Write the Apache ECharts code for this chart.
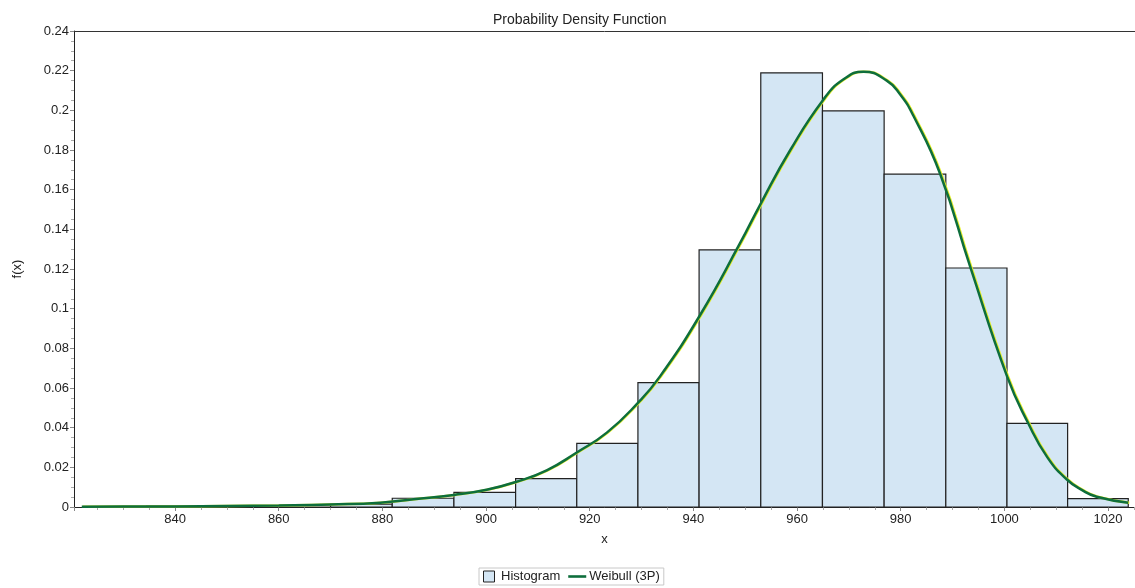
<!DOCTYPE html>
<html>
<head>
<meta charset="utf-8">
<title>Probability Density Function</title>
<script src="https://cdn.jsdelivr.net/npm/echarts/dist/echarts.min.js"></script>
<style>
	html, body { margin: 0; padding: 0; background: #fff; }
	#container { width: 1135px; height: 588px; }
</style>
</head>
<body>
<div id="container"></div>
<script>
// histogram bins (edges) and density of each bin
var binEdges = [822.6, 834.5, 846.3, 858.2, 870.0, 881.9, 893.8, 905.7, 917.5, 929.3,
	941.1, 953.0, 964.9, 976.8, 988.7, 1000.5, 1012.2, 1023.9];
var binDensity = [0, 0.0005, 0.0005, 0, 0.0015, 0.0044, 0.0074, 0.0143, 0.0321, 0.0627,
	0.1296, 0.2189, 0.1997, 0.1678, 0.1205, 0.0422, 0.0042];

// fitted Weibull (3P) curve
var curveX = [822, 830, 840, 850, 860, 870, 879.6, 886.0, 893.8, 900.1, 905.7, 911.7, 917.5,
	923.3, 929.3, 933.6, 941.3, 949.0, 952.9, 958.7, 965.1, 968.9, 972.8, 977.3, 979.9,
	982.4, 987.6, 993.4, 1000.5, 1004.6, 1008.3, 1012.0, 1015.0, 1017.8, 1023.9];
var curveY = [0.0001, 0.0002, 0.0003, 0.0005, 0.0008, 0.0013, 0.0022, 0.0039, 0.0061, 0.0087,
	0.0126, 0.0185, 0.0275, 0.0375, 0.0525, 0.0660, 0.0968, 0.1330, 0.1525, 0.1800, 0.2055,
	0.2155, 0.2195, 0.2150, 0.2080, 0.1975, 0.1680, 0.1212, 0.0660, 0.0422, 0.0250, 0.0140,
	0.0085, 0.0052, 0.0022];

var yTicks = [0, 0.02, 0.04, 0.06, 0.08, 0.1, 0.12, 0.14, 0.16, 0.18, 0.2, 0.22, 0.24];

var histData = [];
for (var i = 0; i < binDensity.length; i++) {
	histData.push([binEdges[i], binEdges[i + 1], binDensity[i]]);
}
var curveData = [];
for (var j = 0; j < curveX.length; j++) {
	curveData.push([curveX[j], curveY[j]]);
}

var dom = document.getElementById("container");
var myChart = echarts.init(dom);
var font = 'Liberation Sans, Arial, sans-serif';
var xMin = 820.5, xMax = 1025.2;

var option = {
	backgroundColor: '#fff',
	animation: false,
	textStyle: { fontFamily: font },
	title: {
		text: 'Probability Density Function',
		left: 488,
		top: 8,
		textStyle: { fontFamily: font, fontSize: 14, fontWeight: 'normal', color: '#222' }
	},
	grid: {
		left: 74,
		top: 31,
		right: 0,
		bottom: 81,
		containLabel: false,
		outerBoundsMode: 'none'
	},
	legend: {
		bottom: 3,
		left: 479,
		padding: [2, 4, 2, 4],
		borderColor: '#c8c8c8',
		borderWidth: 1,
		itemGap: 8,
		itemWidth: 18,
		itemHeight: 11,
		textStyle: { fontFamily: font, fontSize: 13, color: '#222', padding: [0, 0, 0, -2] },
		data: [
			{ name: 'Histogram', icon: 'path://M0,0H10V10H0Z',
				itemStyle: { color: '#d4e6f4', borderColor: '#222', borderWidth: 1 } },
			{ name: 'Weibull (3P)', icon: 'path://M0,0H18V2.6H0Z',
				itemStyle: { color: '#0e6e3c', borderWidth: 0 } }
		]
	},
	xAxis: [
		{
			type: 'value',
			min: xMin,
			max: xMax,
			splitNumber: 10,
			minInterval: 20,
			maxInterval: 20,
			name: 'x',
			nameLocation: 'middle',
			nameGap: 26,
			nameTextStyle: { fontFamily: font, fontSize: 13, color: '#222' },
			axisLine: { lineStyle: { color: '#222', width: 1 } },
			axisTick: { show: true, length: 4, lineStyle: { color: '#888' } },
			minorTick: { show: true, splitNumber: 4, length: 3, lineStyle: { color: '#aaa' } },
			splitLine: { show: false },
			axisLabel: {
				fontFamily: font, fontSize: 13, color: '#222', margin: 6,
				formatter: function (v) { return (Math.round(v) % 20 === 0) ? String(Math.round(v)) : ''; }
			}
		},
		{
			// top frame line of the plot
			type: 'value',
			position: 'top',
			min: xMin,
			max: xMax,
			axisLine: { show: true, lineStyle: { color: '#333', width: 1 } },
			axisTick: { show: false },
			axisLabel: { show: false },
			splitLine: { show: false }
		}
	],
	yAxis: {
		type: 'value',
		min: yTicks[0],
		max: yTicks[yTicks.length - 1],
		interval: 0.02,
		name: 'f(x)',
		nameLocation: 'middle',
		nameGap: 50,
		nameTextStyle: { fontFamily: font, fontSize: 13, color: '#222' },
		axisLine: { show: true, lineStyle: { color: '#222', width: 1 } },
		axisTick: { show: true, length: 4, lineStyle: { color: '#888' } },
		minorTick: { show: true, splitNumber: 4, length: 3, lineStyle: { color: '#aaa' } },
		splitLine: { show: false },
		axisLabel: { fontFamily: font, fontSize: 13, color: '#222', margin: 5 }
	},
	series: [
		{
			name: 'Histogram',
			type: 'custom',
			xAxisIndex: 0,
			itemStyle: { color: '#d4e6f4', borderColor: '#222' },
			encode: { x: [0, 1], y: 2 },
			data: histData,
			z: 2,
			renderItem: function (params, api) {
				var p0 = api.coord([api.value(0), api.value(2)]);
				var p1 = api.coord([api.value(1), 0]);
				return {
					type: 'rect',
					shape: { x: p0[0], y: p0[1], width: p1[0] - p0[0], height: p1[1] - p0[1] },
					style: { fill: '#d4e6f4', stroke: '#222', lineWidth: 1.2 }
				};
			}
		},
		{
			name: 'Weibull (3P)',
			type: 'line',
			xAxisIndex: 0,
			data: curveData,
			smooth: 0.5,
			symbol: 'none',
			showSymbol: false,
			z: 3,
			color: '#0e6e3c',
			lineStyle: {
				color: '#0e6e3c',
				width: 2.5,
				shadowColor: '#e4ee2a',
				shadowBlur: 0,
				shadowOffsetX: 1,
				shadowOffsetY: 0
			}
		}
	]
};

if (option && typeof option === "object") {
	myChart.setOption(option);
}
</script>
</body>
</html>
